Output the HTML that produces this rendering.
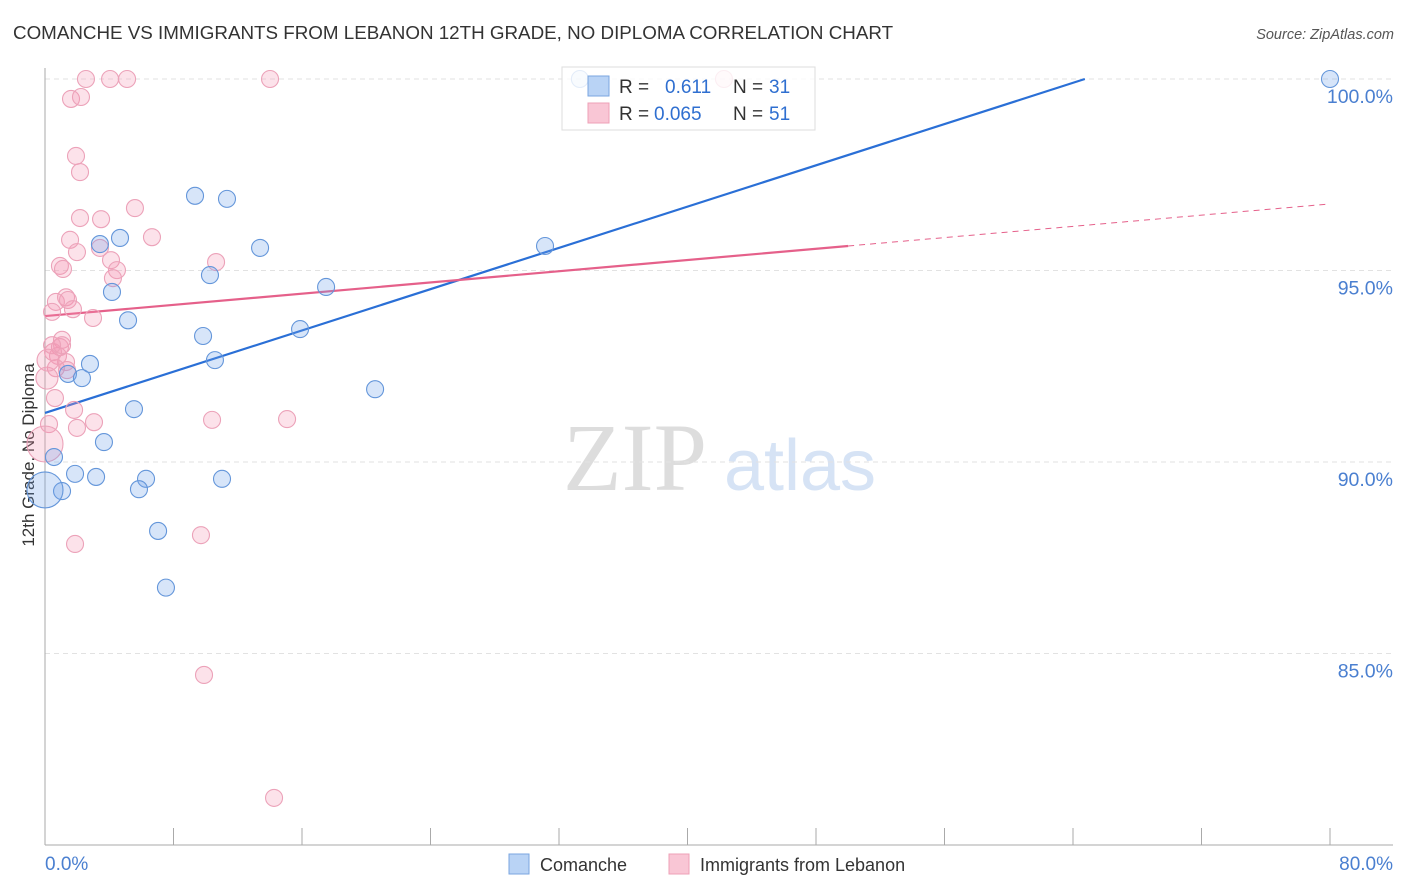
<!DOCTYPE html>
<html><head><meta charset="utf-8"><style>
body{margin:0;background:#fff;font-family:"Liberation Sans",sans-serif}
svg{display:block}
</style></head><body>
<svg id="chart" width="1406" height="892" xmlns="http://www.w3.org/2000/svg">
<text x="13" y="39" font-size="18.8" fill="#333">COMANCHE VS IMMIGRANTS FROM LEBANON 12TH GRADE, NO DIPLOMA CORRELATION CHART</text>
<text x="1394" y="39" font-size="14.5" fill="#555" text-anchor="end" font-style="italic">Source: ZipAtlas.com</text>
<text transform="translate(34,455) rotate(-90)" font-size="17" fill="#333" text-anchor="middle">12th Grade, No Diploma</text>
<g>
<text x="635" y="490" font-size="96" fill="#ddd" font-family="Liberation Serif,serif" text-anchor="middle">ZIP</text>
<text x="800" y="490" font-size="72" fill="#d6e3f5" text-anchor="middle">atlas</text>
</g>
<g id="grid"></g>
<g id="axes"></g>
<g id="trend"></g>
<g id="points"></g>
<g>
<rect x="562" y="67" width="253" height="63" fill="#fff" fill-opacity="0.82" stroke="#ddd"/>
<rect x="588" y="76" width="21" height="20" fill="#b9d3f5" stroke="#7aa6e0"/>
<rect x="588" y="103" width="21" height="20" fill="#f9c6d5" stroke="#eea0b7"/>
<text x="619" y="93" font-size="19" fill="#333">R = </text>
<text x="665" y="93" font-size="19" fill="#2f6fd0">0.611</text>
<text x="733" y="93" font-size="19" fill="#333">N = </text>
<text x="769" y="93" font-size="19" fill="#2f6fd0">31</text>
<text x="619" y="120" font-size="19" fill="#333">R = </text>
<text x="654" y="120" font-size="19" fill="#2f6fd0">0.065</text>
<text x="733" y="120" font-size="19" fill="#333">N = </text>
<text x="769" y="120" font-size="19" fill="#2f6fd0">51</text>
</g>
<g>
<rect x="509" y="854" width="20" height="20" fill="#b9d3f5" stroke="#7aa6e0"/>
<text x="540" y="871" font-size="18" fill="#333">Comanche</text>
<rect x="669" y="854" width="20" height="20" fill="#f9c6d5" stroke="#eea0b7"/>
<text x="700" y="871" font-size="18" fill="#333">Immigrants from Lebanon</text>
</g>
</svg>
<script>
const yTicks=[100,95,90,85];
const yTickLabels=["100.0%","95.0%","90.0%","85.0%"];
const xTicks=[0,8,16,24,32,40,48,56,64,72,80];
const xEndLabels=["0.0%","80.0%"];
const comancheX=[33.3,80,9.34,11.33,4.67,3.42,13.39,31.13,10.27,4.17,17.5,5.17,9.84,15.88,10.58,2.8,1.43,2.3,20.55,5.54,3.67,0.56,1.87,3.18,6.29,11.02,1.06,5.85,7.04,7.53,0];
const comancheY=[100,100,96.95,96.87,95.85,95.69,95.59,95.64,94.88,94.44,94.57,93.7,93.29,93.47,92.66,92.56,92.3,92.19,91.9,91.38,90.52,90.13,89.69,89.61,89.56,89.56,89.24,89.29,88.2,86.72,89.27];
const lebanonX=[2.55,4.05,5.11,14.01,42.27,1.62,2.24,1.93,2.18,5.6,2.18,3.49,6.66,1.56,3.42,1.99,0.93,1.12,10.65,4.11,4.48,4.23,1.31,0.68,1.43,1.74,2.99,0.44,1.06,0.93,0.81,0.5,1.31,0.68,0.12,0.62,1.81,0.25,1.99,3.05,10.4,15.07,0,1.87,9.71,9.9,14.26,1.06,0.44,1.37,0.19];
const lebanonY=[100,100,100,100,100,99.48,99.53,97.99,97.57,96.63,96.37,96.34,95.87,95.8,95.59,95.48,95.12,95.04,95.22,95.27,95.01,94.8,94.3,94.18,94.23,93.99,93.76,93.92,93.19,93.0,92.77,92.87,92.61,92.45,92.19,91.67,91.36,90.99,90.89,91.04,91.1,91.12,90.47,87.86,88.09,84.44,81.23,93.05,93.05,92.4,92.66];
const comancheTrend=[91.28,0.1347];
const lebanonTrend=[93.81,0.0366];
const NS="http://www.w3.org/2000/svg";
const X=v=>45+v/80*1285;
const Y=v=>79+(100-v)*38.3;
function mk(tag,attrs,parent){const e=document.createElementNS(NS,tag);for(const k in attrs)e.setAttribute(k,attrs[k]);document.getElementById(parent).appendChild(e);return e;}
yTicks.forEach((t,i)=>{
 const l=mk('line',{x1:45,x2:1393,y1:Y(t),y2:Y(t),stroke:'#e2e2e2','stroke-dasharray':'5,4'},'grid');
 
 
 const tx=mk('text',{x:1393,y:Y(t)+24,'font-size':19.5,fill:'#4a7fd0','text-anchor':'end'},'axes');
 tx.textContent=yTickLabels[i];
 
 
});
const ax=mk('line',{x1:45,x2:45,y1:68,y2:845,stroke:'#aaa'},'axes');


const bx=mk('line',{x1:45,x2:1393,y1:845,y2:845,stroke:'#aaa'},'axes');


xTicks.forEach(t=>{
 const l=mk('line',{x1:X(t),x2:X(t),y1:828,y2:845,stroke:'#aaa'},'axes');
 
 
});
const xl0=mk('text',{x:45,y:870,'font-size':19,fill:'#4a7fd0'},'axes');xl0.textContent=xEndLabels[0];


const xl1=mk('text',{x:1393,y:870,'font-size':19,fill:'#4a7fd0','text-anchor':'end'},'axes');xl1.textContent=xEndLabels[1];


const bEnd=(100-comancheTrend[0])/comancheTrend[1];
const tb=mk('line',{x1:X(0),y1:Y(comancheTrend[0]),x2:X(bEnd),y2:Y(100),stroke:'#2a6fd6','stroke-width':2.2},'trend');


const tp=mk('line',{x1:X(0),y1:Y(lebanonTrend[0]),x2:X(50),y2:Y(lebanonTrend[0]+50*lebanonTrend[1]),stroke:'#e5608a','stroke-width':2.2},'trend');


const td=mk('line',{x1:X(50),y1:Y(lebanonTrend[0]+50*lebanonTrend[1]),x2:X(79.75),y2:Y(lebanonTrend[0]+79.75*lebanonTrend[1]),stroke:'#e5608a','stroke-width':1,'stroke-dasharray':'6,5'},'trend');


lebanonX.forEach((v,i)=>{
 const r=(v===0)?18:(v<0.2?11:8.5);
 const c=mk('circle',{cx:X(v),cy:Y(lebanonY[i]),r:r,fill:'rgba(244,150,180,0.28)',stroke:'#eca2b9','stroke-width':1.1},'points');
 
 
});
comancheX.forEach((v,i)=>{
 const r=(v===0)?18:8.5;
 const c=mk('circle',{cx:X(v),cy:Y(comancheY[i]),r:r,fill:'rgba(110,160,235,0.28)',stroke:'#6496da','stroke-width':1.1},'points');
 
 
});
</script>
</body></html>
